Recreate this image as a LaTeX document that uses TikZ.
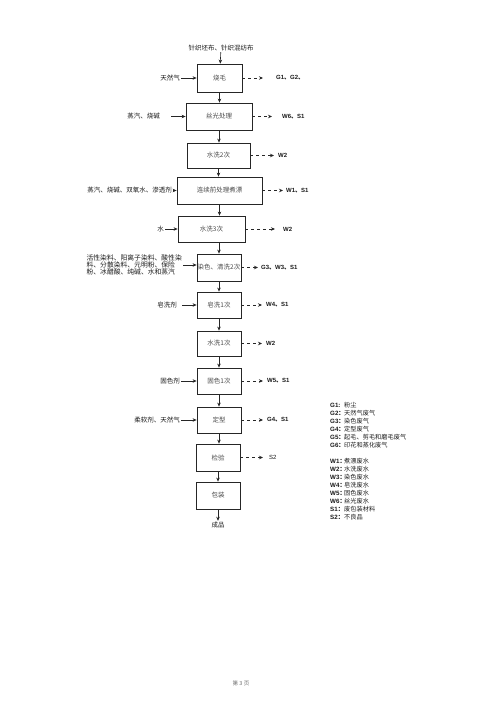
\documentclass[tikz,border=0pt]{standalone}
\usepackage{fontspec}
\setmainfont{Liberation Serif}
\newfontfamily\cjk{Noto Sans CJK SC}
\newfontfamily\codefont{Liberation Sans}
\usetikzlibrary{arrows.meta, positioning}
\definecolor{color_line}{HTML}{262626}
\definecolor{color_text}{HTML}{1A1A1A}
\definecolor{color_box_text}{HTML}{4A4A4A}
\definecolor{color_mute}{HTML}{6E6E6E}
\newcommand{\dun}{{\cjk 、}}
\newcommand{\mao}{{\cjk ：}}
\newcommand{\lgrow}[2]{\makebox[14pt][l]{\codefont\bfseries #1}{\cjk #2}}
\tikzset{
  flow_box/.style={draw=color_line, line width=0.8pt, inner sep=0pt, minimum width=44pt, minimum height=27pt, font=\cjk\fontsize{6.5}{7}\selectfont, text=color_box_text},
  side_label/.style={font=\cjk\fontsize{6.5}{7.5}\selectfont, text=color_text, inner sep=1pt},
  out_label/.style={font=\codefont\bfseries\fontsize{6}{7}\selectfont, text=color_text, inner sep=0pt, anchor=west},
  legend_row/.style={font=\fontsize{6.2}{7}\selectfont, text=color_text, inner sep=0pt, anchor=west},
  flow_arrow/.style={-{Stealth[length=4pt, width=3.5pt]}, draw=color_line, line width=0.6pt},
  waste_arrow/.style={-{Stealth[length=4pt, width=3.5pt]}, draw=color_line, line width=0.7pt, dash pattern=on 3pt off 3pt, shorten >=4pt},
}
\begin{document}
\begin{tikzpicture}[x=1pt, y=-1pt]
  \useasboundingbox (0,0) rectangle (500,707);
  % process chain
  \node[side_label] (n_fabric) at (221,48) {针织坯布、针织混纺布};
  \node[flow_box, minimum width=45pt, minimum height=28pt] (b_singe) at (219.5,78) {烧毛};
  \node[flow_box, minimum width=66pt] (b_mercer) at (219,116.5) {丝光处理};
  \node[flow_box, minimum width=63pt, minimum height=25pt] (b_rinse2) at (218.5,155.5) {水洗2次};
  \node[flow_box, minimum width=85pt] (b_scour) at (219.5,190.5) {连续前处理煮漂};
  \node[flow_box, minimum width=67pt, minimum height=26pt] (b_rinse3) at (211.5,229) {水洗3次};
  \node[flow_box] (b_dye) at (219,267.5) {染色、清洗2次};
  \node[flow_box, minimum height=26pt] (b_soap) at (219,305) {皂洗1次};
  \node[flow_box, minimum height=25pt] (b_rinse1) at (219,343.5) {水洗1次};
  \node[flow_box, minimum height=26pt] (b_fix) at (219,381) {固色1次};
  \node[flow_box, minimum height=26pt] (b_set) at (219,420) {定型};
  \node[flow_box] (b_check) at (218,457.5) {检验};
  \node[flow_box] (b_pack) at (218,495.5) {包装};
  \node[side_label] (n_product) at (218,525) {成品};

  \draw[flow_arrow] (n_fabric) -- (b_singe);
  \draw[flow_arrow] (b_singe.south) -- (b_singe.south |- b_mercer.north);
  \draw[flow_arrow] (b_mercer.south) -- (b_mercer.south |- b_rinse2.north);
  \draw[flow_arrow] (b_rinse2.south) -- (b_rinse2.south |- b_scour.north);
  \draw[flow_arrow] (b_scour.south) -- (b_scour.south |- b_rinse3.north);
  \draw[flow_arrow] (b_dye.north |- b_rinse3.south) -- (b_dye.north);
  \draw[flow_arrow] (b_dye) -- (b_soap);
  \draw[flow_arrow] (b_soap) -- (b_rinse1);
  \draw[flow_arrow] (b_rinse1) -- (b_fix);
  \draw[flow_arrow] (b_fix) -- (b_set);
  \draw[flow_arrow] (b_set.south) -- (b_set.south |- b_check.north);
  \draw[flow_arrow] (b_check) -- (b_pack);
  \draw[flow_arrow] (b_pack) -- (n_product);

  % materials in
  \node[side_label, anchor=east] (i_singe) at (181,78) {天然气};
  \node[side_label, anchor=east] (i_mercer) at (161,116.5) {蒸汽、烧碱};
  \node[side_label, anchor=east] (i_scour) at (173,190.5) {蒸汽、烧碱、双氧水、渗透剂};
  \node[side_label, anchor=east] (i_rinse3) at (165,229) {水};
  \node[side_label, anchor=east, align=left, font=\cjk\fontsize{6.8}{7.4}\selectfont] (i_dye) at (183,265)
    {活性染料、阳离子染料、酸性染\\料、分散染料、元明粉、保险\\粉、冰醋酸、纯碱、水和蒸汽};
  \node[side_label, anchor=east] (i_soap) at (178,305) {皂洗剂};
  \node[side_label, anchor=east] (i_fix) at (181,381) {固色剂};
  \node[side_label, anchor=east] (i_set) at (181,420) {柔软剂、天然气};

  \draw[flow_arrow] (i_singe) -- (b_singe);
  \draw[flow_arrow, shorten <=10pt] (i_mercer.east) -- (b_mercer.west);
  \draw[flow_arrow] (i_scour.east) -- (b_scour.west);
  \draw[flow_arrow] (i_rinse3.east) -- (b_rinse3.west);
  \draw[flow_arrow] (i_dye.east) -- (b_dye.west |- i_dye.east);
  \draw[flow_arrow, shorten <=4pt] (i_soap.east) -- (b_soap.west);
  \draw[flow_arrow] (i_fix.east) -- (b_fix.west);
  \draw[flow_arrow] (i_set.east) -- (b_set.west);

  % waste out
  \node[out_label] (o_singe) at (276,78) {G1\dun G2\dun};
  \node[out_label] (o_mercer) at (282,116.5) {W6\dun S1};
  \node[out_label] (o_rinse2) at (278,155.5) {W2};
  \node[out_label] (o_scour) at (286,190.5) {W1\dun S1};
  \node[out_label] (o_rinse3) at (283,229) {W2};
  \node[out_label] (o_dye) at (261,267.5) {G3\dun W3\dun S1};
  \node[out_label] (o_soap) at (266,305) {W4\dun S1};
  \node[out_label] (o_rinse1) at (266,343.5) {W2};
  \node[out_label] (o_fix) at (267,381) {W5\dun S1};
  \node[out_label] (o_set) at (267,420) {G4\dun S1};
  \node[out_label, font=\codefont\fontsize{6}{7}\selectfont] (o_check) at (269,457.5) {S2};

  \draw[waste_arrow, shorten >=13pt] (b_singe.east) -- (o_singe.west);
  \draw[waste_arrow, shorten >=10pt] (b_mercer.east) -- (o_mercer.west);
  \draw[waste_arrow] (b_rinse2.east) -- (o_rinse2.west);
  \draw[waste_arrow, shorten >=3pt] (b_scour.east) -- (o_scour.west);
  \draw[waste_arrow, shorten >=8pt] (b_rinse3.east) -- (o_rinse3.west);
  \draw[waste_arrow, shorten >=3pt] (b_dye.east) -- (o_dye.west);
  \draw[waste_arrow] (b_soap.east) -- (o_soap.west);
  \draw[waste_arrow] (b_rinse1.east) -- (o_rinse1.west);
  \draw[waste_arrow] (b_fix.east) -- (o_fix.west);
  \draw[waste_arrow] (b_set.east) -- (o_set.west);
  \draw[waste_arrow, shorten >=6pt] (b_check.east) -- (o_check.west);

  % legend
  \node[legend_row] (l_g1) at (330,405) {\lgrow{G1:}{粉尘}};
  \node[legend_row] (l_g2) at (330,413) {\lgrow{G2\mao}{天然气废气}};
  \node[legend_row] (l_g3) at (330,421) {\lgrow{G3\mao}{染色废气}};
  \node[legend_row] (l_g4) at (330,429) {\lgrow{G4\mao}{定型废气}};
  \node[legend_row] (l_g5) at (330,437) {\lgrow{G5\mao}{起毛、剪毛和磨毛废气}};
  \node[legend_row] (l_g6) at (330,445) {\lgrow{G6\mao}{印花和蒸化废气}};
  \node[legend_row] (l_w1) at (330,461) {\lgrow{W1\mao}{煮漂废水}};
  \node[legend_row] (l_w2) at (330,469) {\lgrow{W2\mao}{水洗废水}};
  \node[legend_row] (l_w3) at (330,477) {\lgrow{W3\mao}{染色废水}};
  \node[legend_row] (l_w4) at (330,485) {\lgrow{W4\mao}{皂洗废水}};
  \node[legend_row] (l_w5) at (330,493) {\lgrow{W5\mao}{固色废水}};
  \node[legend_row] (l_w6) at (330,501) {\lgrow{W6\mao}{丝光废水}};
  \node[legend_row] (l_s1) at (330,509) {\lgrow{S1\mao}{废包装材料}};
  \node[legend_row] (l_s2) at (330,517) {\lgrow{S2\mao}{不良品}};

  \node[font=\cjk\fontsize{5.5}{6}\selectfont, text=color_mute] (n_page) at (241,683) {第 3 页};
\end{tikzpicture}
\end{document}
